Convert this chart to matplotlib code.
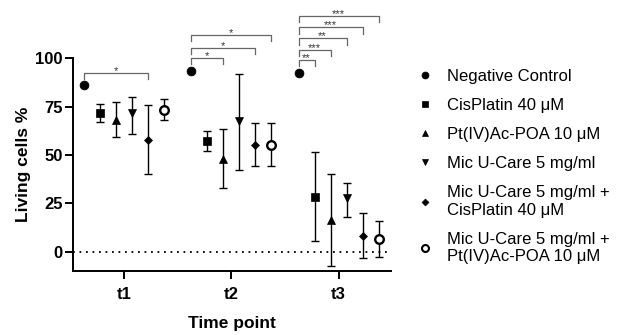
import numpy as np
import matplotlib
matplotlib.use("Agg")
import matplotlib.pyplot as plt
from matplotlib.lines import Line2D

plt.rcParams['font.family'] = ['Liberation Sans', 'DejaVu Sans']

time_points = ['t1', 't2', 't3']
groups = ['Negative Control', 'CisPlatin 40 \u03bcM', 'Pt(IV)Ac-POA 10 \u03bcM',
          'Mic U-Care 5 mg/ml', 'Mic U-Care 5 mg/ml +\nCisPlatin 40 \u03bcM',
          'Mic U-Care 5 mg/ml +\nPt(IV)Ac-POA 10 \u03bcM']

# mean, lower cap, upper cap for each group at t1, t2, t3
means = [[86, 93.5, 92.6],
         [71.6, 57.4, 28.1],
         [68.3, 48, 16.4],
         [71.6, 67.8, 27.8],
         [57.8, 55.2, 8.1],
         [73.5, 55.2, 6.4]]
lows = [[86, 93.5, 92.6],
        [67.3, 52.3, 5.3],
        [59.1, 32.8, -7.2],
        [60.9, 42.4, 18],
        [40.2, 44.1, -3.5],
        [68.1, 44.1, -2.9]]
highs = [[86, 93.5, 92.6],
         [76.4, 62.6, 51.7],
         [77.4, 63.6, 40],
         [80.2, 91.9, 35.5],
         [76, 66.7, 20],
         [79, 66.7, 15.9]]

# significance vs negative control: (time index, group index, bracket height, label)
sig_time = [0, 1, 1, 1, 2, 2, 2, 2, 2]
sig_group = [4, 2, 4, 5, 1, 2, 3, 4, 5]
sig_level = [92.6, 100, 105.5, 112, 99.2, 104.5, 110.3, 116, 122]
sig_label = ['*', '*', '*', '*', '**', '***', '**', '***', '***']

markers = ['o', 's', '^', 'v', 'D', 'o']
msizes = [6.4, 5.8, 6.4, 6.4, 4.4, 6.2]
legend_ms = [5, 4.5, 5, 5, 3.5, 5]

fig = plt.figure(figsize=(6.19, 3.35), dpi=100)
ax = fig.add_axes([0.118, 0.191, 0.514, 0.635])

step = 0.149
x = np.arange(1, len(time_points) + 1)
offsets = (np.arange(len(groups)) - 2.5) * step

for i in range(len(groups)):
    m = np.array(means[i])
    lo = m - np.array(lows[i])
    hi = np.array(highs[i]) - m
    xs = x + offsets[i]
    face = 'white' if i == 5 else 'black'
    if i > 0:
        ax.errorbar(xs, m, yerr=[lo, hi], fmt='none', ecolor='black',
                    elinewidth=1.0, capsize=2.6, capthick=1.0, clip_on=False, zorder=2)
    ax.plot(xs, m, linestyle='none', marker=markers[i], ms=msizes[i],
            mfc=face, mec='black', mew=1.7 if i == 5 else 0.5, clip_on=False, zorder=3)

ax.axhline(0, color='black', linestyle=(0, (1, 2.6)), linewidth=1.3, zorder=1)

tick_down = 3.2
for t, g, lev, lab in zip(sig_time, sig_group, sig_level, sig_label):
    x0 = x[t] + offsets[0]
    x1 = x[t] + offsets[g]
    ax.plot([x0, x0, x1, x1], [lev - tick_down, lev, lev, lev - tick_down],
            color='#666666', linewidth=0.9, clip_on=False)
    ax.annotate(lab, ((x0 + x1) / 2, lev), xytext=(0, -2.2), textcoords='offset points',
                ha='center', va='bottom', fontsize=8, color='#333333',
                annotation_clip=False)

ax.set_xlim(0.528, 3.49)
ax.set_ylim(-10, 100)
ax.set_yticks([0, 25, 50, 75, 100])
ax.set_xticks(x)
ax.set_xticklabels(time_points)
for s in ['top', 'right']:
    ax.spines[s].set_visible(False)
for s in ['left', 'bottom']:
    ax.spines[s].set_linewidth(1.4)
ax.tick_params(axis='both', width=1.4, length=5.5, labelsize=12)
ax.tick_params(axis='x', pad=6)
ax.tick_params(axis='y', pad=2)
for lab in ax.get_xticklabels() + ax.get_yticklabels():
    lab.set_fontweight('bold')

ax.set_ylabel('Living cells %', fontsize=12.5, fontweight='bold', labelpad=3)
ax.set_xlabel('Time point', fontsize=12.5, fontweight='bold', labelpad=10)

handles = [Line2D([], [], linestyle='none', marker=markers[i], ms=legend_ms[i],
                  mfc='white' if i == 5 else 'black', mec='black',
                  mew=1.5 if i == 5 else 0.5) for i in range(len(groups))]
fig.legend(handles, groups, loc='upper left', bbox_to_anchor=(0.665, 0.815),
           frameon=False, fontsize=12, handlelength=0.8, handletextpad=0.9,
           labelspacing=0.85, borderaxespad=0)

fig.savefig('out.png', dpi=100)
